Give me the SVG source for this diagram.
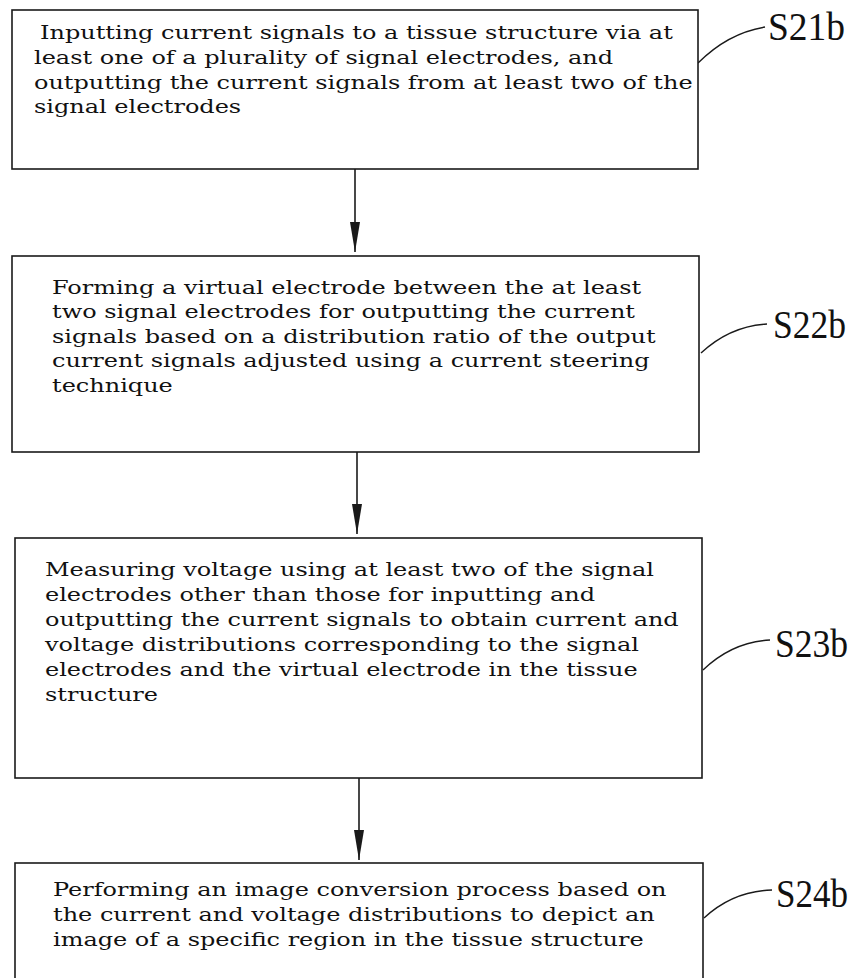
<svg xmlns="http://www.w3.org/2000/svg" width="857" height="978" viewBox="0 0 857 978">
<style>
.box{fill:#fff;stroke:#1a1a1a;stroke-width:1.6}
.t{font-family:"DejaVu Serif","Liberation Serif",serif;font-size:18.5px;fill:#111}
.lbl{font-family:"Liberation Serif","Times New Roman",serif;font-size:40px;fill:#111}
.conn{stroke:#1a1a1a;stroke-width:1.6;fill:none}
.lead{stroke:#1a1a1a;stroke-width:1.4;fill:none}
</style>
<defs>
<marker id="ah" markerUnits="userSpaceOnUse" markerWidth="32" markerHeight="12" refX="30" refY="5" orient="auto">
<path d="M0,0 L30,5 L0,10 Z" fill="#1a1a1a"/>
</marker>
</defs>
<rect width="857" height="978" fill="#fff"/>

<g id="connectors">
<line class="conn" x1="355" y1="169" x2="355" y2="252" marker-end="url(#ah)"/>
<line class="conn" x1="357" y1="452" x2="357" y2="534" marker-end="url(#ah)"/>
<line class="conn" x1="359" y1="778" x2="359" y2="860" marker-end="url(#ah)"/>
<path class="lead" d="M698,63 Q728,33 765,27"/>
<path class="lead" d="M701,353 Q730,326 767,324"/>
<path class="lead" d="M703,670 Q732,642 770,640"/>
<path class="lead" d="M704,918 Q733,891 772,890"/>
</g>

<g id="S21b">
<rect class="box" x="12" y="10" width="686" height="159"/>
<g class="t">
<text transform="translate(40,39) scale(1.297,1)">Inputting current signals to a tissue structure via at</text>
<text transform="translate(34,64) scale(1.297,1)">least one of a plurality of signal electrodes, and</text>
<text transform="translate(34,89) scale(1.297,1)">outputting the current signals from at least two of the</text>
<text transform="translate(34,113) scale(1.297,1)">signal electrodes</text>
</g>
<text class="lbl" x="768" y="40" textLength="77" lengthAdjust="spacingAndGlyphs">S21b</text>
</g>

<g id="S22b">
<rect class="box" x="12" y="256" width="687" height="196"/>
<g class="t">
<text transform="translate(52,294) scale(1.297,1)">Forming a virtual electrode between the at least</text>
<text transform="translate(52,318) scale(1.297,1)">two signal electrodes for outputting the current</text>
<text transform="translate(52,343) scale(1.297,1)">signals based on a distribution ratio of the output</text>
<text transform="translate(52,367) scale(1.297,1)">current signals adjusted using a current steering</text>
<text transform="translate(52,392) scale(1.297,1)">technique</text>
</g>
<text class="lbl" x="773" y="338" textLength="73" lengthAdjust="spacingAndGlyphs">S22b</text>
</g>

<g id="S23b">
<rect class="box" x="15" y="538" width="687" height="240"/>
<g class="t">
<text transform="translate(45,576) scale(1.297,1)">Measuring voltage using at least two of the signal</text>
<text transform="translate(45,601) scale(1.297,1)">electrodes other than those for inputting and</text>
<text transform="translate(45,626) scale(1.297,1)">outputting the current signals to obtain current and</text>
<text transform="translate(45,651) scale(1.297,1)">voltage distributions corresponding to the signal</text>
<text transform="translate(45,676) scale(1.297,1)">electrodes and the virtual electrode in the tissue</text>
<text transform="translate(45,701) scale(1.297,1)">structure</text>
</g>
<text class="lbl" x="775" y="657" textLength="73" lengthAdjust="spacingAndGlyphs">S23b</text>
</g>

<g id="S24b">
<rect class="box" x="15" y="863" width="688" height="130"/>
<g class="t">
<text transform="translate(53,896) scale(1.297,1)">Performing an image conversion process based on</text>
<text transform="translate(53,921) scale(1.297,1)">the current and voltage distributions to depict an</text>
<text transform="translate(53,946) scale(1.297,1)">image of a specific region in the tissue structure</text>
</g>
<text class="lbl" x="776" y="907" textLength="72" lengthAdjust="spacingAndGlyphs">S24b</text>
</g>
</svg>
